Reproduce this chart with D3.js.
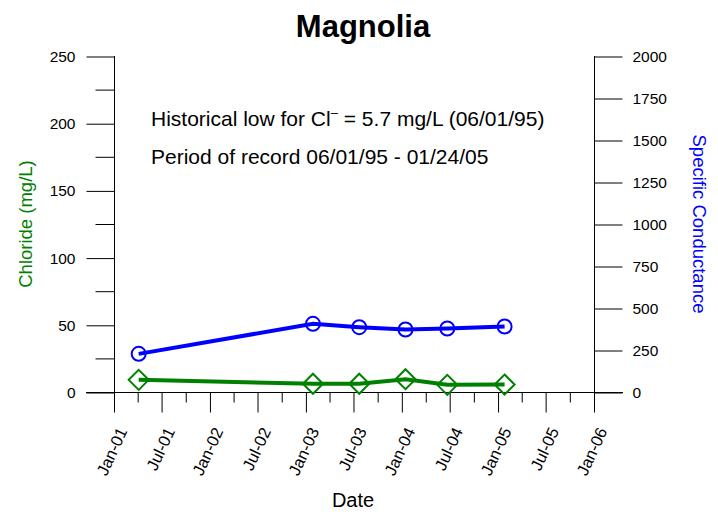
<!DOCTYPE html>
<html>
<head>
<meta charset="utf-8">
<script src="https://cdn.jsdelivr.net/npm/d3@7"></script>
<style>
  body { margin: 0; background: #fff; }
  text { font-family: Arial, "Liberation Sans", sans-serif; }
</style>
</head>
<body>
<div id="chart"></div>
<script>
// sample dates and values
var sampleDates = ["2001-04-03", "2003-01-26", "2003-07-21", "2004-01-13", "2004-06-20", "2005-01-24"];
var chloride = [9.4, 6.5, 6.5, 9.9, 5.7, 5.9];
var conductance = [230, 409, 389, 375, 381, 393];

var leftTicks = [0, 50, 100, 150, 200, 250];
var rightTicks = [0, 250, 500, 750, 1000, 1250, 1500, 1750, 2000];

var svgWidth = 718;
var svgHeight = 516;

var svg = d3.select("#chart")
    .append("svg")
    .attr("width", svgWidth)
    .attr("height", svgHeight);

var parse = d3.timeParse("%Y-%m-%d");
var dates = sampleDates.map(parse);

var x = d3.scaleTime()
    .domain([new Date(2001, 0, 1), new Date(2006, 0, 1)])
    .range([114.5, 594.5]);

var yL = d3.scaleLinear().domain([0, 250]).range([392.5, 56.5]);
var yR = d3.scaleLinear().domain([0, 2000]).range([392.5, 56.5]);

// title
svg.append("text")
    .attr("x", 363)
    .attr("y", 37)
    .attr("text-anchor", "middle")
    .style("font-size", "31px")
    .style("font-weight", "bold")
    .text("Magnolia");

// left axis
var left = svg.append("g")
    .attr("transform", "translate(114.5,0)")
    .call(d3.axisLeft(yL).tickValues(leftTicks).tickSize(28).tickPadding(11));
left.selectAll("text").style("font-size", "15.5px").attr("fill", "#000");
left.select(".domain").remove();
left.selectAll(".minor")
    .data([25, 75, 125, 175, 225])
    .enter().append("line")
    .attr("x1", -19).attr("x2", 0)
    .attr("y1", d => yL(d)).attr("y2", d => yL(d))
    .attr("stroke", "#000");

// right axis
var right = svg.append("g")
    .attr("transform", "translate(594.5,0)")
    .call(d3.axisRight(yR).tickValues(rightTicks).tickFormat(d3.format("d")).tickSize(28).tickPadding(10));
right.selectAll("text").style("font-size", "15.5px").attr("fill", "#000");
right.select(".domain").remove();

// vertical axis lines
svg.append("line").attr("x1", 114.5).attr("x2", 114.5).attr("y1", 56).attr("y2", 412).attr("stroke", "#000");
svg.append("line").attr("x1", 594.5).attr("x2", 594.5).attr("y1", 56).attr("y2", 412).attr("stroke", "#000");

// bottom axis
var bottom = svg.append("g")
    .attr("transform", "translate(0,392.5)");
bottom.append("line").attr("x1", 86).attr("x2", 623).attr("stroke", "#000");
bottom.selectAll(".qt")
    .data(x.ticks(d3.timeMonth.every(3)))
    .enter().append("line")
    .attr("x1", d => x(d)).attr("x2", d => x(d))
    .attr("y1", 0)
    .attr("y2", d => d.getMonth() % 6 == 0 ? 20 : 10)
    .attr("stroke", "#000");
var fmt = d3.timeFormat("%b-%y");
bottom.selectAll(".lbl")
    .data(x.ticks(d3.timeMonth.every(6)))
    .enter().append("text")
    .attr("transform", d => `translate(${x(d) + 8},${36}) rotate(-65)`)
    .attr("text-anchor", "end")
    .attr("dy", "0.35em")
    .style("font-size", "16.5px")
    .text(d => fmt(d));

// axis titles
svg.append("text")
    .attr("transform", "translate(32,224) rotate(-90)")
    .attr("text-anchor", "middle")
    .attr("fill", "#008000")
    .style("font-size", "18.5px")
    .text("Chloride (mg/L)");

svg.append("text")
    .attr("transform", "translate(693,224) rotate(90)")
    .attr("text-anchor", "middle")
    .attr("fill", "#0000ff")
    .style("font-size", "18.5px")
    .text("Specific Conductance");

svg.append("text")
    .attr("x", 353)
    .attr("y", 507)
    .attr("text-anchor", "middle")
    .style("font-size", "20px")
    .text("Date");

// annotations
var note = svg.append("text")
    .attr("x", 151)
    .attr("y", 126)
    .style("font-size", "21px");
note.append("tspan").text("Historical low for Cl");
note.append("tspan").attr("dy", -9).style("font-size", "13px").text("\u2013");
note.append("tspan").attr("dy", 9).text(" = 5.7 mg/L (06/01/95)");

svg.append("text")
    .attr("x", 151)
    .attr("y", 164)
    .style("font-size", "21px")
    .text("Period of record 06/01/95 - 01/24/05");

// series
var clData = dates.map((d, i) => ({date: d, v: chloride[i]}));
var scData = dates.map((d, i) => ({date: d, v: conductance[i]}));

svg.append("path")
    .datum(scData)
    .attr("fill", "none")
    .attr("stroke", "#0000ff")
    .attr("stroke-width", 4)
    .attr("d", d3.line().x(d => x(d.date)).y(d => yR(d.v)));

svg.selectAll(".sc")
    .data(scData)
    .enter().append("circle")
    .attr("cx", d => x(d.date))
    .attr("cy", d => yR(d.v))
    .attr("r", 7)
    .attr("fill", "none")
    .attr("stroke", "#0000ff")
    .attr("stroke-width", 2);

svg.append("path")
    .datum(clData)
    .attr("fill", "none")
    .attr("stroke", "#008000")
    .attr("stroke-width", 4)
    .attr("d", d3.line().x(d => x(d.date)).y(d => yL(d.v)));

svg.selectAll(".cl")
    .data(clData)
    .enter().append("path")
    .attr("transform", d => `translate(${x(d.date)},${yL(d.v)})`)
    .attr("d", "M0,-10L10,0L0,10L-10,0Z")
    .attr("fill", "none")
    .attr("stroke", "#008000")
    .attr("stroke-width", 2);
</script>
</body>
</html>
